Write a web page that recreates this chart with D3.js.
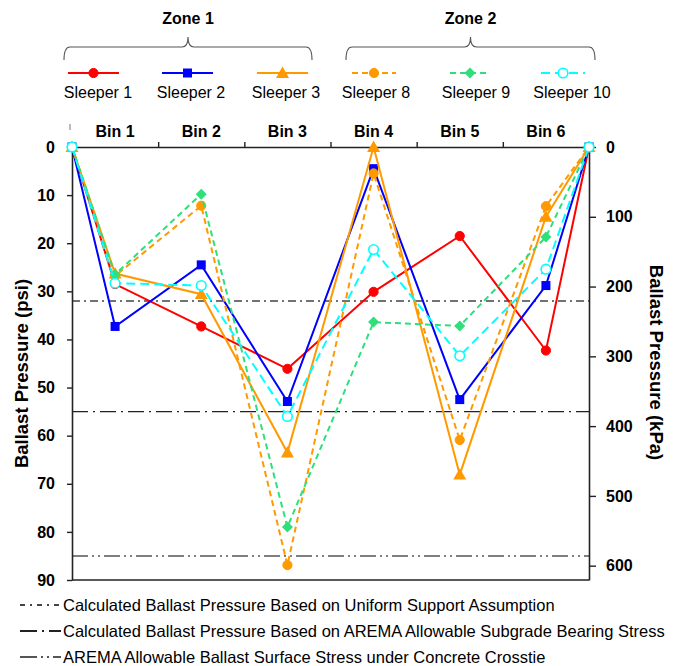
<!DOCTYPE html>
<html>
<head>
<meta charset="utf-8">
<script src="https://cdn.jsdelivr.net/npm/d3@7"></script>
<style>
  html, body { margin: 0; padding: 0; background: #fff; }
  svg { display: block; font-family: "Liberation Sans", Arial, sans-serif; }
</style>
</head>
<body>
<svg id="chart" width="685" height="666"></svg>
<script>
// Positions along the sleeper: ends (0 and 6) plus the centre of each bin
const positions = [0, 0.5, 1.5, 2.5, 3.5, 4.5, 5.5, 6];
const binLabels = ["Bin 1", "Bin 2", "Bin 3", "Bin 4", "Bin 5", "Bin 6"];

// Ballast pressure (psi) per sleeper
const sleeper1  = [0, 28.5, 37.3, 46.1, 30.1, 18.5, 42.3, 0];
const sleeper2  = [0, 37.3, 24.5, 52.9, 4.5, 52.5, 28.8, 0];
const sleeper3  = [0, 26.3, 30.6, 63.5, 0.0, 68.1, 14.5, 0];
const sleeper8  = [0, 26.8, 12.2, 86.9, 5.5, 60.9, 12.3, 0];
const sleeper9  = [0, 26.5, 9.8, 79.0, 36.4, 37.2, 18.7, 0];
const sleeper10 = [0, 28.3, 28.8, 56.0, 21.3, 43.4, 25.4, 0];

const seriesNames = ["Sleeper 1", "Sleeper 2", "Sleeper 3", "Sleeper 8", "Sleeper 9", "Sleeper 10"];
const seriesValues = [sleeper1, sleeper2, sleeper3, sleeper8, sleeper9, sleeper10];

// Reference pressure levels (psi)
const refNames = [
  "Calculated Ballast Pressure Based on Uniform Support Assumption",
  "Calculated Ballast Pressure Based on AREMA Allowable Subgrade Bearing Stress",
  "AREMA Allowable Ballast Surface Stress under Concrete Crosstie"
];
const refValues = [32, 55, 85];

const psiTicks = [0, 10, 20, 30, 40, 50, 60, 70, 80, 90];
const kpaTicks = [0, 100, 200, 300, 400, 500, 600];
const binEdges = [1, 2, 3, 4, 5];
const zoneLabels = ["Zone 1", "Zone 2"];

// ---- styles ----
const seriesStyle = [
  { color: "#ff0000", dash: null,   marker: "circle",   fill: true },
  { color: "#0000ff", dash: null,   marker: "square",   fill: true },
  { color: "#ff9900", dash: null,   marker: "triangle", fill: true },
  { color: "#ff9900", dash: "6,4",  marker: "circle",   fill: true },
  { color: "#2ee07a", dash: "6,4",  marker: "diamond",  fill: true },
  { color: "#00ffff", dash: "9,5",  marker: "circle",   fill: false }
];
const refStyle = [
  { color: "#444", dash: "8,4,2,4",       key: "5,5,2,5" },
  { color: "#222", dash: "16,5,2,5",      key: "17,5,2,5" },
  { color: "#555", dash: "16,4,2,4,2,4",  key: "17,4,2,4,2,4" }
];

const svg = d3.select("#chart");
const plotL = 72, plotR = 589, plotT = 147, plotB = 580;

const x = d3.scaleLinear().domain([0, 6]).range([plotL, plotR]);
const y = d3.scaleLinear().domain([0, 90]).range([plotT, plotB]);
const yK = d3.scaleLinear().domain([0, 90 * 6.894757]).range([plotT, plotB]);

// ---- reference lines ----
refValues.forEach((v, i) => {
  svg.append("line")
    .attr("x1", plotL).attr("x2", plotR)
    .attr("y1", y(v)).attr("y2", y(v))
    .attr("stroke", refStyle[i].color)
    .attr("stroke-width", 1.4)
    .attr("stroke-dasharray", refStyle[i].dash);
});

// ---- axes ----
const axisFont = g => g.selectAll("text")
  .attr("font-size", 16).attr("font-weight", "bold").attr("fill", "#000")
  .attr("font-family", "Liberation Sans, Arial, sans-serif");
const axisLine = g => {
  g.selectAll("path.domain").attr("stroke", "#222").attr("stroke-width", 1.6);
  g.selectAll(".tick line").attr("stroke", "#222").attr("stroke-width", 1.4);
};

svg.append("g")
  .attr("transform", `translate(${plotL},0)`)
  .call(d3.axisLeft(y).tickValues(psiTicks).tickSize(5).tickPadding(12).tickSizeOuter(0))
  .call(axisFont).call(axisLine);

svg.append("g")
  .attr("transform", `translate(${plotR},0)`)
  .call(d3.axisRight(yK).tickValues(kpaTicks).tickSize(7).tickPadding(10).tickSizeOuter(0))
  .call(axisFont).call(axisLine);

svg.append("g")
  .attr("transform", `translate(0,${plotT})`)
  .call(d3.axisTop(x).tickValues(binEdges).tickSize(5).tickFormat("").tickSizeOuter(0))
  .call(axisLine);

// small mark above the left end of the bin axis
svg.append("line")
  .attr("x1", plotL - 2).attr("x2", plotL - 2).attr("y1", 124).attr("y2", 130)
  .attr("stroke", "#777").attr("stroke-width", 1);

svg.append("line")
  .attr("x1", plotL).attr("x2", plotR).attr("y1", plotB).attr("y2", plotB)
  .attr("stroke", "#222").attr("stroke-width", 1.6);

// bin labels centred between top ticks
svg.append("g").selectAll("text").data(binLabels).join("text")
  .attr("x", (d, i) => x(i + 0.5))
  .attr("y", 137)
  .attr("text-anchor", "middle")
  .attr("font-size", 16).attr("font-weight", "bold")
  .text(d => d);

// axis titles
svg.append("text")
  .attr("transform", `translate(28,${(plotT + plotB) / 2 + 10}) rotate(-90)`)
  .attr("text-anchor", "middle")
  .attr("font-size", 18.5).attr("font-weight", "bold")
  .text("Ballast Pressure (psi)");
svg.append("text")
  .attr("transform", `translate(650,${(plotT + plotB) / 2 - 1}) rotate(90)`)
  .attr("text-anchor", "middle")
  .attr("font-size", 18.5).attr("font-weight", "bold")
  .text("Ballast Pressure (kPa)");

// ---- markers ----
function drawMarker(g, type, cx, cy, st) {
  const fill = st.fill ? st.color : "#fff";
  if (type === "circle") {
    g.append("circle").attr("cx", cx).attr("cy", cy).attr("r", st.fill ? 4.6 : 4.8)
      .attr("fill", fill).attr("stroke", st.color).attr("stroke-width", st.fill ? 1 : 1.6);
  } else if (type === "square") {
    g.append("rect").attr("x", cx - 4.5).attr("y", cy - 4.5)
      .attr("width", 9).attr("height", 9).attr("fill", fill);
  } else if (type === "triangle") {
    const h = 6.5;
    g.append("path")
      .attr("d", `M${cx},${cy - h} L${cx + h},${cy + h * 0.75} L${cx - h},${cy + h * 0.75} Z`)
      .attr("fill", fill);
  } else if (type === "diamond") {
    const h = 5.5;
    g.append("path")
      .attr("d", `M${cx},${cy - h} L${cx + h},${cy} L${cx},${cy + h} L${cx - h},${cy} Z`)
      .attr("fill", fill);
  }
}

// ---- series ----
const line = d3.line().x((d, i) => x(positions[i])).y(d => y(d));
seriesValues.forEach((vals, si) => {
  const st = seriesStyle[si];
  const g = svg.append("g");
  g.append("path").datum(vals)
    .attr("d", line)
    .attr("fill", "none")
    .attr("stroke", st.color)
    .attr("stroke-width", 2)
    .attr("stroke-dasharray", st.dash);
  vals.forEach((v, i) => drawMarker(g, st.marker, x(positions[i]), y(v), st));
});

// ---- top legend: zones and sleepers ----
const zoneSpans = [[64, 312], [346, 595]];
zoneSpans.forEach((sp, i) => {
  const [a, b] = sp, m = (a + b) / 2;
  svg.append("path")
    .attr("d", `M${a},60 Q${a},47 ${a + 6},47 L${m - 6},47 Q${m},47 ${m},37 Q${m},47 ${m + 6},47 L${b - 6},47 Q${b},47 ${b},60`)
    .attr("fill", "none").attr("stroke", "#555").attr("stroke-width", 1.1);
  svg.append("text")
    .attr("x", m).attr("y", 24)
    .attr("text-anchor", "middle")
    .attr("font-size", 16).attr("font-weight", "bold")
    .text(zoneLabels[i]);
});

const legendLine = [[68, 119], [162, 213], [257, 308], [352, 396], [450, 490], [541, 585]];
const legendText = [98, 191, 286, 376, 476, 572];
seriesNames.forEach((name, i) => {
  const st = seriesStyle[i];
  const [a, b] = legendLine[i];
  const g = svg.append("g");
  g.append("line").attr("x1", a).attr("x2", b).attr("y1", 73).attr("y2", 73)
    .attr("stroke", st.color).attr("stroke-width", 2)
    .attr("stroke-dasharray", st.dash);
  drawMarker(g, st.marker, (a + b) / 2, 73, st);
  svg.append("text")
    .attr("x", legendText[i]).attr("y", 98)
    .attr("text-anchor", "middle")
    .attr("font-size", 16)
    .text(name);
});

// ---- bottom legend: reference lines ----
const refRowY = [605, 631, 657];
refNames.forEach((name, i) => {
  svg.append("line")
    .attr("x1", 20).attr("x2", 61)
    .attr("y1", refRowY[i]).attr("y2", refRowY[i])
    .attr("stroke", refStyle[i].color).attr("stroke-width", 1.8)
    .attr("stroke-dasharray", refStyle[i].key);
  svg.append("text")
    .attr("x", 63).attr("y", refRowY[i] + 5.5)
    .attr("font-size", 16.5)
    .text(name);
});
</script>
</body>
</html>
